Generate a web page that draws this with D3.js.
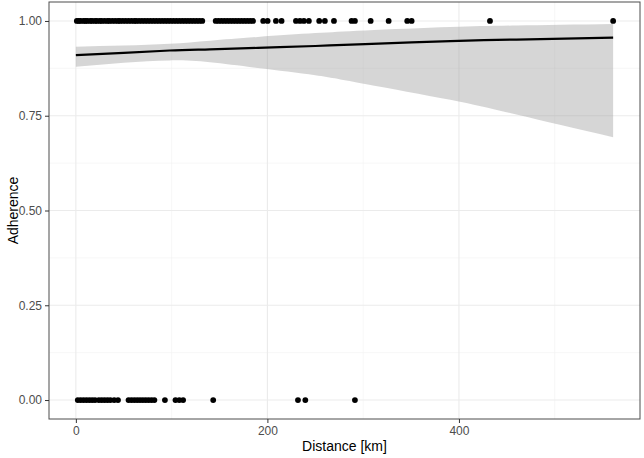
<!DOCTYPE html>
<html>
<head>
  <meta charset="utf-8">
  <title>Adherence vs Distance</title>
  <script src="https://d3js.org/d3.v7.min.js"></script>
  <style>
    body { margin: 0; background: #fff; }
    text { font-family: "Liberation Sans", Arial, sans-serif; }
  </style>
</head>
<body>
  <svg width="644" height="458"></svg>
  <script>
    // observed distances [km] by adherence outcome
    const adherentKm = [
      1, 3, 5, 8, 10, 12, 15, 17, 20, 22, 25, 27, 30, 33, 35, 38, 41, 44, 46, 49,
      52, 55, 58, 61, 63, 66, 69, 72, 75, 78, 81, 84, 87, 90, 93, 96, 99, 102, 105,
      108, 111, 114, 117, 120, 123, 126, 129, 132,
      146, 149, 152, 155, 158, 161, 164, 167, 170, 173, 176, 179, 182, 185,
      195.6, 200.2, 208.9, 214.8, 229.8, 234, 238.1, 243.3, 254.1, 260, 269.5,
      287.9, 291.4, 307.8, 326.6, 346, 350.6, 432.4, 561
    ];
    const nonAdherentKm = [
      2, 5, 8, 11, 14, 17, 20, 24, 27, 30, 33, 36, 40, 44,
      55, 58, 61, 64, 67, 70, 73, 76, 79, 82,
      93, 104, 108, 112, 143.4, 231.9, 239.6, 291.4
    ];

    // fitted logistic curve and 95% band
    const fitKm    = [0, 50, 98, 140, 190, 250, 302, 391, 460, 561];
    const fitValue = [0.910, 0.916, 0.922, 0.925, 0.929, 0.934, 0.939, 0.947, 0.951, 0.956];
    const fitLower = [0.879, 0.890, 0.896, 0.891, 0.876, 0.857, 0.834, 0.792, 0.753, 0.693];
    const fitUpper = [0.932, 0.935, 0.940, 0.948, 0.958, 0.968, 0.975, 0.984, 0.988, 0.992];

    const xTicks = [0, 200, 400];
    const xMinor = [100, 300, 500];
    const yTicks = [0, 0.25, 0.5, 0.75, 1];
    const yMinor = [0.125, 0.375, 0.625, 0.875];

    const svg = d3.select("svg");
    const margin = { top: 2, right: 4, bottom: 39, left: 49 };
    const W = 644, H = 458;

    const x = d3.scaleLinear()
      .domain([-0.05 * 561, 561 * 1.05])
      .range([margin.left, W - margin.right]);
    const y = d3.scaleLinear()
      .domain([-0.05, 1.05])
      .range([H - margin.bottom, margin.top]);

    const g = svg.append("g");

    // grid
    g.selectAll(".xminor").data(xMinor).join("line")
      .attr("x1", d => x(d)).attr("x2", d => x(d))
      .attr("y1", y.range()[0]).attr("y2", y.range()[1])
      .attr("stroke", "#f2f2f2").attr("stroke-width", 0.6);
    g.selectAll(".yminor").data(yMinor).join("line")
      .attr("y1", d => y(d)).attr("y2", d => y(d))
      .attr("x1", x.range()[0]).attr("x2", x.range()[1])
      .attr("stroke", "#f2f2f2").attr("stroke-width", 0.6);
    g.selectAll(".xmajor").data(xTicks).join("line")
      .attr("x1", d => x(d)).attr("x2", d => x(d))
      .attr("y1", y.range()[0]).attr("y2", y.range()[1])
      .attr("stroke", "#ebebeb").attr("stroke-width", 1.1);
    g.selectAll(".ymajor").data(yTicks).join("line")
      .attr("y1", d => y(d)).attr("y2", d => y(d))
      .attr("x1", x.range()[0]).attr("x2", x.range()[1])
      .attr("stroke", "#ebebeb").attr("stroke-width", 1.1);

    // points
    g.append("g").selectAll("circle").data(adherentKm).join("circle")
      .attr("cx", d => x(d)).attr("cy", y(1)).attr("r", 2.9).attr("fill", "#000");
    g.append("g").selectAll("circle").data(nonAdherentKm).join("circle")
      .attr("cx", d => x(d)).attr("cy", y(0)).attr("r", 2.9).attr("fill", "#000");

    // confidence band + fit
    const band = fitKm.map((d, i) => ({ x: d, lo: fitLower[i], hi: fitUpper[i], v: fitValue[i] }));
    g.append("path").datum(band)
      .attr("fill", "#999").attr("fill-opacity", 0.4)
      .attr("d", d3.area().curve(d3.curveNatural)
        .x(d => x(d.x)).y0(d => y(d.lo)).y1(d => y(d.hi)));
    g.append("path").datum(band)
      .attr("fill", "none").attr("stroke", "#000").attr("stroke-width", 2.2)
      .attr("d", d3.line().curve(d3.curveNatural).x(d => x(d.x)).y(d => y(d.v)));

    // panel border
    g.append("rect")
      .attr("x", margin.left).attr("y", margin.top)
      .attr("width", W - margin.left - margin.right)
      .attr("height", H - margin.top - margin.bottom)
      .attr("fill", "none").attr("stroke", "#4d4d4d").attr("stroke-width", 1);

    // axes
    const xAxis = svg.append("g")
      .attr("transform", `translate(0,${H - margin.bottom})`)
      .call(d3.axisBottom(x).tickValues(xTicks).tickFormat(d3.format("d")).tickSize(4).tickPadding(3));
    const yAxis = svg.append("g")
      .attr("transform", `translate(${margin.left},0)`)
      .call(d3.axisLeft(y).tickValues(yTicks).tickFormat(d3.format(".2f")).tickSize(4).tickPadding(3));
    [xAxis, yAxis].forEach(a => {
      a.select(".domain").remove();
      a.selectAll(".tick line").attr("stroke", "#333");
      a.selectAll(".tick text").attr("fill", "#4d4d4d").attr("font-size", 12)
        .attr("font-family", "Liberation Sans, Arial, sans-serif");
    });

    svg.append("text")
      .attr("x", (margin.left + W - margin.right) / 2).attr("y", 451)
      .attr("text-anchor", "middle").attr("font-size", 14).attr("fill", "#000")
      .text("Distance [km]");
    svg.append("text")
      .attr("transform", `translate(18,${(margin.top + H - margin.bottom) / 2}) rotate(-90)`)
      .attr("text-anchor", "middle").attr("font-size", 14).attr("fill", "#000")
      .text("Adherence");
  </script>
</body>
</html>
